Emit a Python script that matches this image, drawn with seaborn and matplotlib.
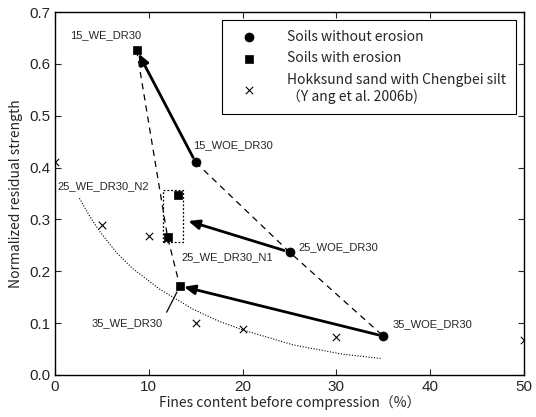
import matplotlib
matplotlib.use("Agg")
import matplotlib.pyplot as plt
import seaborn as sns
import pandas as pd

# ---- data ----
woe_names = ["15_WOE_DR30", "25_WOE_DR30", "35_WOE_DR30"]
woe_x = [15, 25, 35]
woe_y = [0.41, 0.237, 0.075]

we_names = ["15_WE_DR30", "25_WE_DR30_N1", "25_WE_DR30_N2", "35_WE_DR30"]
we_x = [8.7, 12.0, 13.1, 13.3]
we_y = [0.627, 0.266, 0.347, 0.172]

hok_x = [0, 5, 10, 15, 20, 30, 50]
hok_y = [0.41, 0.29, 0.268, 0.10, 0.088, 0.074, 0.067]

trend_x = [2.6, 3.7, 4.8, 6.6, 8.3, 11.2, 14.7, 17.3, 20, 25.4, 30.7, 34.7]
trend_y = [0.341, 0.306, 0.276, 0.235, 0.205, 0.165, 0.127, 0.105, 0.087, 0.058, 0.040, 0.032]

xticks = [0, 10, 20, 30, 40, 50]
yticks = [0.0, 0.1, 0.2, 0.3, 0.4, 0.5, 0.6, 0.7]

sns.set_style("ticks", {"xtick.direction": "in", "ytick.direction": "in"})
plt.rcParams["font.family"] = ["Liberation Sans", "DejaVu Sans"]
jp = ["Noto Sans CJK JP", "DejaVu Sans"]

fig = plt.figure(figsize=(5.36, 4.17), dpi=100)
ax = fig.add_axes([55/536, 1-375/417, 469/536, 363/417])

df_woe = pd.DataFrame({"x": woe_x, "y": woe_y, "name": woe_names})
df_we = pd.DataFrame({"x": we_x, "y": we_y, "name": we_names})
df_hok = pd.DataFrame({"x": hok_x, "y": hok_y})
df_tr = pd.DataFrame({"x": trend_x, "y": trend_y})

# trend (dotted)
sns.lineplot(data=df_tr, x="x", y="y", ax=ax, color="black", lw=0.8,
             linestyle=(0, (1, 1.5)), sort=False, legend=False)
# dashed connections
sns.lineplot(data=df_woe, x="x", y="y", ax=ax, color="black", lw=0.9,
             linestyle=(0, (5, 4)), sort=False, legend=False)
we_path = df_we.set_index("name").loc[["15_WE_DR30", "25_WE_DR30_N1", "35_WE_DR30"]].reset_index()
sns.lineplot(data=we_path, x="x", y="y", ax=ax, color="black", lw=0.9,
             linestyle=(0, (5, 4)), sort=False, legend=False)

# dotted box around N1/N2
box_x = [11.5, 13.65, 13.65, 11.5, 11.5]
box_y = [0.257, 0.257, 0.357, 0.357, 0.257]
ax.plot(box_x, box_y, color="black", lw=0.9, linestyle=(0, (1.5, 1.5)))

# arrows
arrow_kw = dict(arrowstyle="-|>,head_length=0.65,head_width=0.28", color="black", lw=2.0,
                shrinkA=4, shrinkB=3)
ax.annotate("", xy=(we_x[0], we_y[0]), xytext=(woe_x[0], woe_y[0]), arrowprops=arrow_kw)
ax.annotate("", xy=(14.2, 0.297), xytext=(woe_x[1], woe_y[1]),
            arrowprops=dict(arrow_kw, shrinkB=0))
ax.annotate("", xy=(we_x[3], we_y[3]), xytext=(woe_x[2], woe_y[2]), arrowprops=arrow_kw)

# leader line for 35_WE
ax.plot([11.9, 13.0], [0.121, 0.160], color="black", lw=0.9)

# markers
sns.scatterplot(data=df_hok, x="x", y="y", ax=ax, marker="x", color="black", s=28,
                linewidth=0.8, label="Hokksund sand with Chengbei silt\n（Y ang et al. 2006b)", zorder=5)
sns.scatterplot(data=df_woe, x="x", y="y", ax=ax, marker="o", color="black", s=42,
                edgecolor="black", label="Soils without erosion", zorder=6)
sns.scatterplot(data=df_we, x="x", y="y", ax=ax, marker="s", color="black", s=38,
                edgecolor="black", label="Soils with erosion", zorder=6)

# annotations
labels = {
    "15_WE_DR30": (1.6, 0.655),
    "15_WOE_DR30": (14.7, 0.443),
    "25_WE_DR30_N2": (0.3, 0.364),
    "25_WOE_DR30": (25.9, 0.247),
    "25_WE_DR30_N1": (13.5, 0.228),
    "35_WE_DR30": (3.9, 0.100),
    "35_WOE_DR30": (36.0, 0.098),
}
for t, (lx, ly) in labels.items():
    ax.text(lx, ly, t, fontsize=8, ha="left", va="center")

ax.set_xlim(0, 50)
ax.set_ylim(0, 0.7)
ax.set_xticks(xticks)
ax.set_yticks(yticks)
ax.set_yticklabels([f"{v:.1f}" for v in yticks])
ax.tick_params(direction="in", top=True, right=True, labelsize=11, length=4, width=0.8)
for s in ax.spines.values():
    s.set_visible(True)
    s.set_linewidth(1.0)
    s.set_color("black")

ax.set_xlabel("Fines content before compression（%）", fontsize=10, family=jp, labelpad=1)
ax.set_ylabel("Normalized residual strength", fontsize=10, family=jp, labelpad=4)

h, l = ax.get_legend_handles_labels()
order = [l.index("Soils without erosion"), l.index("Soils with erosion"),
         [i for i, s in enumerate(l) if s.startswith("Hokksund")][0]]
leg = ax.legend([h[i] for i in order], [l[i] for i in order], loc="upper right",
                bbox_to_anchor=(0.983, 0.978), frameon=True, fancybox=False,
                edgecolor="black", framealpha=1, prop={"family": jp, "size": 10},
                borderpad=0.7, labelspacing=0.55, handletextpad=1.5, handlelength=2.5,
                borderaxespad=0)
leg.get_frame().set_linewidth(0.8)

fig.savefig("out.png", dpi=100)
